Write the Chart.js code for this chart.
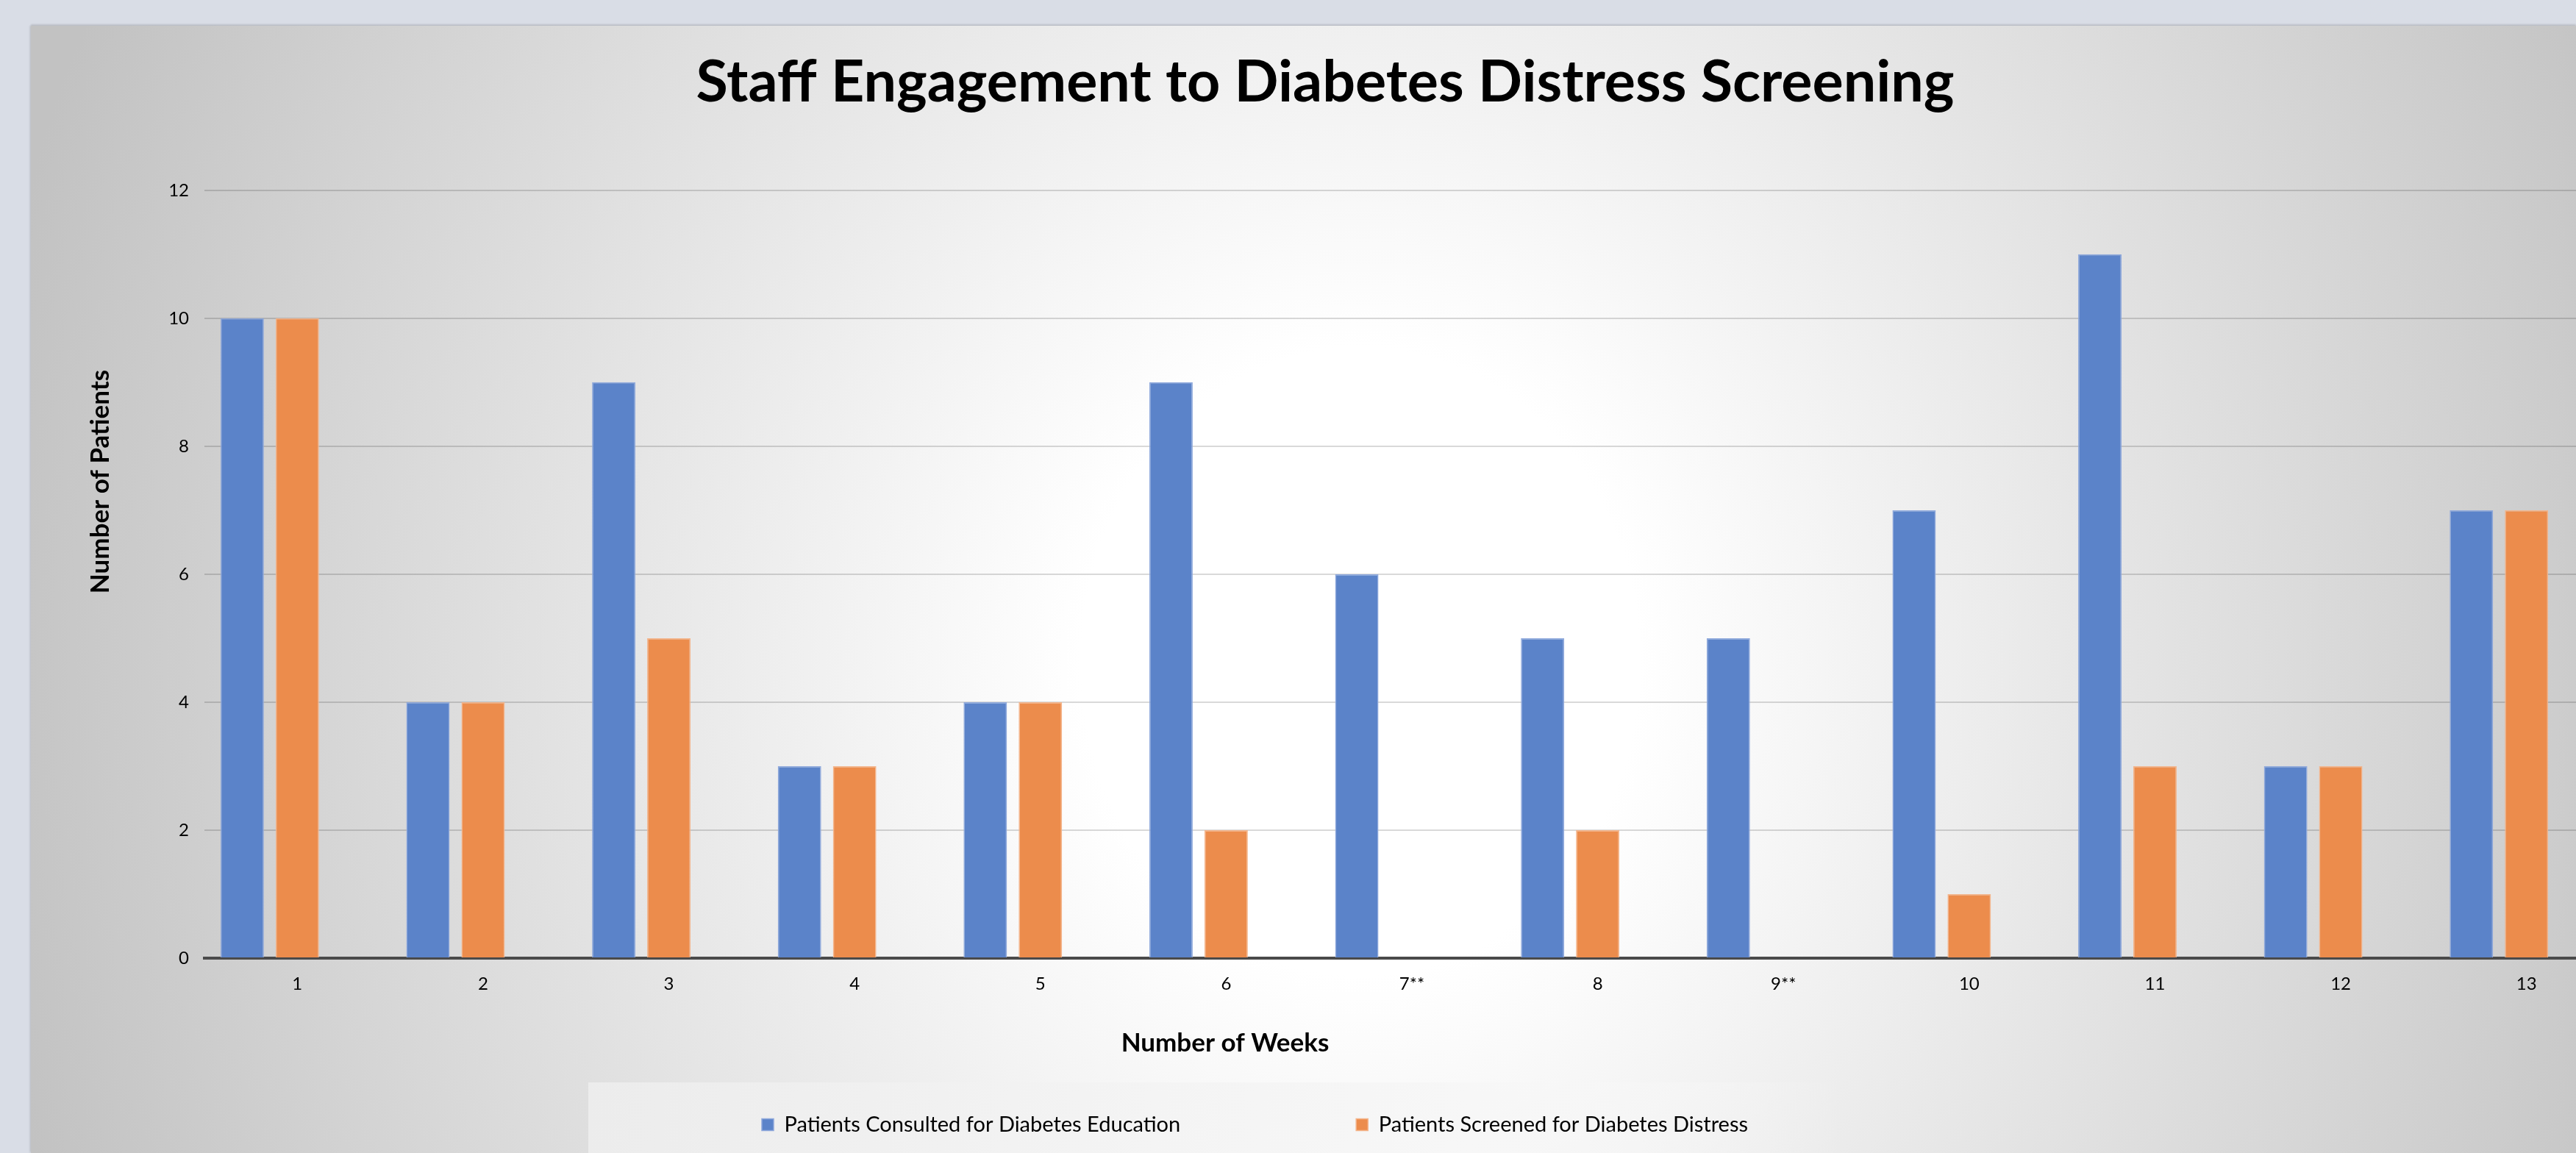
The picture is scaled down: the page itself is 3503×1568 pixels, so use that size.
<!DOCTYPE html>
<html>
<head>
<meta charset="utf-8">
<script src="https://cdn.jsdelivr.net/npm/chart.js@4.4.0/dist/chart.umd.min.js"></script>
<style>
  html, body { margin: 0; padding: 0; width: 3503px; height: 1568px; overflow: hidden; background: #d9dde6; }
  #panel {
    position: absolute; left: 42px; top: 35px; right: 0; bottom: 0;
    background: radial-gradient(ellipse 1900px 2135px at 1808px 865px, #ffffff 0%, #ffffff 20%, #c2c2c2 100%);
    box-shadow: 0 -2px 2px rgba(0,0,0,0.12), -2px 0 2px rgba(0,0,0,0.08);
  }
  #legendBg {
    position: absolute; left: 800px; top: 1472px; width: 1710px; height: 96px;
    background: linear-gradient(90deg, #ececec 0%, #f4f4f4 45%, #f7f7f7 70%, rgba(240,240,240,0) 100%);
  }
  #chart { position: absolute; left: 42px; top: 35px; }
</style>
</head>
<body>
<div id="panel"></div>
<div id="legendBg"></div>
<canvas id="chart" width="3540" height="1533"></canvas>
<script>
var weeks = ['1', '2', '3', '4', '5', '6', '7**', '8', '9**', '10', '11', '12', '13'];
var consulted = [10, 4, 9, 3, 4, 9, 6, 5, 5, 7, 11, 3, 7];
var screened = [10, 4, 5, 3, 4, 2, 0, 2, 0, 1, 3, 3, 7];
var yTicks = [0, 2, 4, 6, 8, 10, 12];

var titleText = 'Staff Engagement to Diabetes Distress Screening';
var xTitle = 'Number of Weeks';
var yTitle = 'Number of Patients';

// the legend sits off-centre in the original, so it gets nudged after layout
// (only the top moves up, so the legend's clip box still holds the items)
var axisTitles = {
    id: 'axisTitles',
    afterLayout: function (chart) {
        var lg = chart.legend;
        lg.left += 755; lg.right += 755;
        lg.top -= 232;
    },
    afterDraw: function (chart) {
        var ctx = chart.ctx;
        ctx.save();
        ctx.fillStyle = '#000';
        ctx.font = 'bold 35px Lato';
        ctx.textAlign = 'center';
        ctx.textBaseline = 'middle';
        ctx.fillText(xTitle, 1624, 1384);
        ctx.translate(95, 620);
        ctx.rotate(-Math.PI / 2);
        ctx.fillText(yTitle, 0, 0);
        ctx.restore();
    }
};

var ctx = document.getElementById('chart').getContext('2d');
var chart = new Chart(ctx, {
    type: 'bar',
    data: {
        labels: weeks,
        datasets: [{
            label: 'Patients Consulted for Diabetes Education',
            data: consulted,
            backgroundColor: '#5b83c9',
            borderColor: '#8ea8dc',
            borderWidth: 1.5
        }, {
            label: 'Patients Screened for Diabetes Distress',
            data: screened,
            backgroundColor: '#ec8c4c',
            borderColor: '#f4b48a',
            borderWidth: 1.5
        }, {
            // empty slot, the original leaves room for a third series
            label: '',
            data: [],
            backgroundColor: 'transparent'
        }]
    },
    options: {
        responsive: false,
        animation: false,
        categoryPercentage: 0.89,
        barPercentage: 0.787,
        layout: { padding: { right: 20 } },
        plugins: {
            title: {
                display: true,
                text: titleText,
                color: '#000',
                font: { family: 'Lato', size: 79, weight: 'bold' },
                padding: { top: 30, bottom: 99 }
            },
            legend: {
                position: 'bottom',
                align: 'start',
                maxHeight: 60,
                labels: {
                    color: '#000',
                    font: { family: 'Lato', size: 29 },
                    boxWidth: 16,
                    boxHeight: 16,
                    padding: 239,
                    filter: function (item) { return item.text !== ''; }
                }
            },
            tooltip: { enabled: false }
        },
        scales: {
            x: {
                grid: { display: false },
                border: { color: '#4a4a4a', width: 4 },
                ticks: {
                    color: '#000',
                    font: { family: 'Lato', size: 24 },
                    padding: 13,
                    maxRotation: 0,
                    autoSkip: false
                },
                afterFit: function (scale) { scale.height = 205; }
            },
            y: {
                min: 0,
                max: 12,
                grid: { color: 'rgba(0,0,0,0.15)', lineWidth: 2, drawTicks: false },
                border: { display: false },
                ticks: {
                    stepSize: 2,
                    color: '#000',
                    font: { family: 'Lato', size: 24 },
                    padding: 21
                },
                afterBuildTicks: function (scale) {
                    scale.ticks = yTicks.map(function (v) { return { value: v }; });
                },
                afterFit: function (scale) { scale.width = 236; }
            }
        }
    },
    plugins: [axisTitles]
});
</script>
</body>
</html>
